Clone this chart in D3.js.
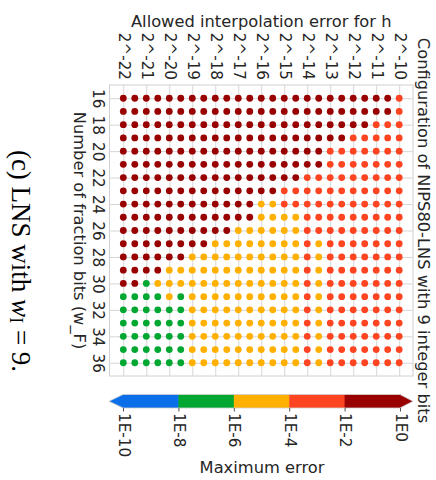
<!DOCTYPE html>
<html>
<head>
<meta charset="utf-8">
<script src="https://cdn.jsdelivr.net/npm/d3@7"></script>
<style>
  body { margin: 0; background: #fff; }
  text { font-family: "DejaVu Sans", sans-serif; fill: #262626; }
</style>
</head>
<body>
<div id="chart"></div>
<script>
// number of fraction bits (rows)
var fracBits = [16, 17, 18, 19, 20, 21, 22, 23, 24, 25, 26, 27, 28, 29, 30, 31, 32, 33, 34, 35, 36];
var yTicks = [16, 18, 20, 22, 24, 26, 28, 30, 32, 34, 36];
// allowed interpolation error for h, as power of two (columns)
var hErrorExp = [-22, -21.5, -21, -20.5, -20, -19.5, -19, -18.5, -18, -17.5, -17, -16.5, -16,
                 -15.5, -15, -14.5, -14, -13.5, -13, -12.5, -12, -11.5, -11, -10.5, -10];
var xTicks = [-22, -21, -20, -19, -18, -17, -16, -15, -14, -13, -12, -11, -10];
var xTickLabels = ["2^-22", "2^-21", "2^-20", "2^-19", "2^-18", "2^-17", "2^-16",
                   "2^-15", "2^-14", "2^-13", "2^-12", "2^-11", "2^-10"];
// log10 of max error, one row per fraction bit count
var maxErrorLog10 = [
  [-1,-1,-1,-1,-1,-1,-1,-1,-1,-1,-1,-1,-1,-1,-1,-1,-1,-1,-1,-1,-1,-1,-1,-1,-3],
  [-1,-1,-1,-1,-1,-1,-1,-1,-1,-1,-1,-1,-1,-1,-1,-1,-1,-1,-1,-1,-1,-1,-1,-1,-3],
  [-1,-1,-1,-1,-1,-1,-1,-1,-1,-1,-1,-1,-1,-1,-1,-1,-1,-1,-1,-1,-1,-1,-3,-3,-3],
  [-1,-1,-1,-1,-1,-1,-1,-1,-1,-1,-1,-1,-1,-1,-1,-1,-1,-1,-1,-1,-3,-3,-3,-3,-3],
  [-1,-1,-1,-1,-1,-1,-1,-1,-1,-1,-1,-1,-1,-1,-1,-1,-1,-1,-3,-3,-3,-3,-3,-3,-3],
  [-1,-1,-1,-1,-1,-1,-1,-1,-1,-1,-1,-1,-1,-1,-1,-1,-1,-1,-3,-3,-3,-3,-3,-3,-3],
  [-1,-1,-1,-1,-1,-1,-1,-1,-1,-1,-1,-1,-1,-1,-1,-1,-3,-3,-3,-3,-3,-3,-3,-3,-3],
  [-1,-1,-1,-1,-1,-1,-1,-1,-1,-1,-1,-1,-1,-1,-3,-3,-3,-3,-3,-3,-3,-3,-3,-3,-3],
  [-1,-1,-1,-1,-1,-1,-1,-1,-1,-1,-1,-1,-5,-5,-3,-3,-3,-3,-3,-3,-3,-3,-3,-3,-3],
  [-1,-1,-1,-1,-1,-1,-1,-1,-1,-1,-1,-1,-5,-5,-5,-5,-3,-3,-3,-3,-3,-3,-3,-3,-3],
  [-1,-1,-1,-1,-1,-1,-1,-1,-1,-1,-5,-5,-5,-5,-5,-5,-3,-3,-3,-3,-3,-3,-3,-3,-3],
  [-1,-1,-1,-1,-1,-1,-1,-1,-5,-5,-5,-5,-5,-5,-5,-5,-3,-5,-3,-3,-3,-3,-3,-3,-3],
  [-1,-1,-1,-1,-1,-1,-5,-5,-5,-5,-5,-5,-5,-5,-5,-5,-3,-5,-3,-3,-3,-3,-3,-3,-3],
  [-1,-1,-1,-1,-5,-5,-5,-5,-5,-5,-5,-5,-5,-5,-5,-5,-3,-5,-3,-3,-3,-3,-3,-3,-3],
  [-1,-1,-7,-5,-5,-5,-5,-5,-5,-5,-5,-5,-5,-5,-5,-5,-3,-5,-3,-3,-3,-3,-3,-3,-3],
  [-7,-7,-7,-7,-5,-7,-5,-5,-5,-5,-5,-5,-5,-5,-5,-5,-3,-5,-3,-3,-3,-3,-3,-3,-3],
  [-7,-7,-7,-7,-7,-7,-5,-5,-5,-5,-5,-5,-5,-5,-5,-5,-3,-5,-3,-3,-3,-3,-3,-3,-3],
  [-7,-7,-7,-7,-7,-7,-5,-5,-5,-5,-5,-5,-5,-5,-5,-5,-3,-5,-3,-3,-3,-3,-3,-3,-3],
  [-7,-7,-7,-7,-7,-7,-5,-5,-5,-5,-5,-5,-5,-5,-5,-5,-3,-5,-3,-3,-3,-3,-3,-3,-3],
  [-7,-7,-7,-7,-7,-7,-5,-5,-5,-5,-5,-5,-5,-5,-5,-5,-3,-5,-3,-3,-3,-3,-3,-3,-3],
  [-7,-7,-7,-7,-7,-7,-5,-5,-5,-5,-5,-5,-5,-5,-5,-5,-3,-5,-3,-3,-3,-3,-3,-3,-3]
];
// colorbar
var cbBounds = [-10, -8, -6, -4, -2, 0];
var cbTickLabels = ["1E-10", "1E-8", "1E-6", "1E-4", "1E-2", "1E0"];
var bandColors = ["#0a6fe8", "#00a832", "#ffb000", "#ff4422", "#990000"];

var width = 436, height = 480;
var plot = { left: 109.5, right: 413, top: 85, bottom: 376 };
var fs = 16.3, tickFs = 15.2;

var svg = d3.select("#chart").append("svg")
    .attr("width", width)
    .attr("height", height);

// scales, 5% padding like matplotlib
var xPad = (d3.max(hErrorExp) - d3.min(hErrorExp)) * 0.05;
var yPad = (d3.max(fracBits) - d3.min(fracBits)) * 0.05;
var xScale = d3.scaleLinear()
    .domain([d3.min(hErrorExp) - xPad, d3.max(hErrorExp) + xPad])
    .range([plot.left, plot.right]);
var yScale = d3.scaleLinear()
    .domain([d3.min(fracBits) - yPad, d3.max(fracBits) + yPad])
    .range([plot.top, plot.bottom]);
var color = d3.scaleThreshold()
    .domain([-8, -6, -4, -2])
    .range(bandColors);

// frame + grid
svg.append("rect")
    .attr("x", plot.left).attr("y", plot.top)
    .attr("width", plot.right - plot.left).attr("height", plot.bottom - plot.top)
    .attr("fill", "none").attr("stroke", "#d0d0d0").attr("stroke-width", 1);

var xAxis = svg.append("g")
    .attr("class", "axis axis-x")
    .attr("transform", "translate(0," + plot.top + ")")
    .call(d3.axisTop(xScale).tickValues(xTicks).tickSize(-(plot.bottom - plot.top))
        .tickFormat(function (d, i) { return xTickLabels[i]; }));
var yAxis = svg.append("g")
    .attr("class", "axis axis-y")
    .attr("transform", "translate(" + plot.left + ",0)")
    .call(d3.axisLeft(yScale).tickValues(yTicks).tickSize(-(plot.right - plot.left)));
svg.selectAll(".axis .domain").remove();
svg.selectAll(".axis line").attr("stroke", "#d6d6d6").attr("stroke-width", 1);

// rotated tick labels
xAxis.selectAll("text")
    .attr("font-size", tickFs)
    .attr("text-anchor", "end")
    .attr("dominant-baseline", "central")
    .attr("x", 0).attr("y", 0).attr("dy", null)
    .attr("transform", "translate(0,-5) rotate(90)");
yAxis.selectAll("text")
    .attr("font-size", tickFs)
    .attr("text-anchor", "middle")
    .attr("dominant-baseline", "central")
    .attr("x", 0).attr("y", 0).attr("dy", null)
    .attr("transform", "translate(-12,0) rotate(90)");

// dots
var cells = [];
maxErrorLog10.forEach(function (row, i) {
    row.forEach(function (v, j) {
        cells.push({ bits: fracBits[i], h: hErrorExp[j], err: v });
    });
});
svg.append("g").attr("class", "dots")
    .selectAll("circle")
    .data(cells)
    .enter()
    .append("circle")
    .attr("cx", function (d) { return xScale(d.h); })
    .attr("cy", function (d) { return yScale(d.bits); })
    .attr("r", 3.4)
    .attr("fill", function (d) { return color(d.err); });

// titles
svg.append("text")
    .attr("x", (plot.left + plot.right) / 2).attr("y", 27)
    .attr("text-anchor", "middle").attr("font-size", fs)
    .text("Allowed interpolation error for h");
svg.append("text")
    .attr("text-anchor", "middle").attr("dominant-baseline", "central").attr("font-size", fs)
    .attr("transform", "translate(423.5," + (plot.top + plot.bottom) / 2 + ") rotate(90)")
    .text("Configuration of NIPS80-LNS with 9 integer bits");
svg.append("text")
    .attr("text-anchor", "middle").attr("dominant-baseline", "central").attr("font-size", fs)
    .attr("transform", "translate(79," + (plot.top + plot.bottom) / 2 + ") rotate(90)")
    .text("Number of fraction bits (w_F)");

// caption
var cap = svg.append("text")
    .attr("text-anchor", "middle").attr("dominant-baseline", "central")
    .attr("transform", "translate(21,261) rotate(90)")
    .style("font-family", "'Liberation Serif', 'DejaVu Serif', serif")
    .style("fill", "#000")
    .attr("font-size", 27);
cap.append("tspan").text("(c) LNS with ");
cap.append("tspan").attr("font-style", "italic").text("w");
cap.append("tspan").attr("font-size", 18).attr("dy", 5).text("I");
cap.append("tspan").attr("dy", -5).text(" = 9.");

// colorbar
var cbTop = 394.5, cbBottom = 408;
var cbScale = d3.scaleLinear().domain([-10, 0]).range([123, 400]);
var cb = svg.append("g").attr("class", "colorbar");
cb.selectAll("rect")
    .data(bandColors)
    .enter()
    .append("rect")
    .attr("x", function (d, i) { return cbScale(cbBounds[i]); })
    .attr("y", cbTop)
    .attr("width", function (d, i) { return cbScale(cbBounds[i + 1]) - cbScale(cbBounds[i]) + 0.5; })
    .attr("height", cbBottom - cbTop)
    .attr("fill", function (d) { return d; });
var cbMid = (cbTop + cbBottom) / 2;
cb.append("path")
    .attr("d", "M" + cbScale(-10) + "," + cbTop + "L109," + cbMid + "L" + cbScale(-10) + "," + cbBottom + "Z")
    .attr("fill", bandColors[0]);
cb.append("path")
    .attr("d", "M" + cbScale(0) + "," + cbTop + "L413," + cbMid + "L" + cbScale(0) + "," + cbBottom + "Z")
    .attr("fill", bandColors[4]);
cb.append("path")
    .attr("d", "M" + cbScale(-10) + "," + cbTop + "L109," + cbMid + "L" + cbScale(-10) + "," + cbBottom +
        "L" + cbScale(0) + "," + cbBottom + "L413," + cbMid + "L" + cbScale(0) + "," + cbTop + "Z")
    .attr("fill", "none").attr("stroke", "#cfcfcf").attr("stroke-width", 0.8);

var cbAxis = cb.append("g")
    .attr("transform", "translate(0," + cbBottom + ")")
    .call(d3.axisBottom(cbScale).tickValues(cbBounds).tickSize(3.5)
        .tickFormat(function (d, i) { return cbTickLabels[i]; }));
cbAxis.select(".domain").remove();
cbAxis.selectAll("line").attr("stroke", "#262626").attr("stroke-width", 0.8);
cbAxis.selectAll("text")
    .attr("font-size", tickFs)
    .attr("text-anchor", "start")
    .attr("dominant-baseline", "central")
    .attr("x", 0).attr("y", 0).attr("dy", null)
    .attr("transform", "translate(0,5) rotate(90)");

svg.append("text")
    .attr("x", 262).attr("y", 473)
    .attr("text-anchor", "middle").attr("font-size", fs)
    .text("Maximum error");
</script>
</body>
</html>
